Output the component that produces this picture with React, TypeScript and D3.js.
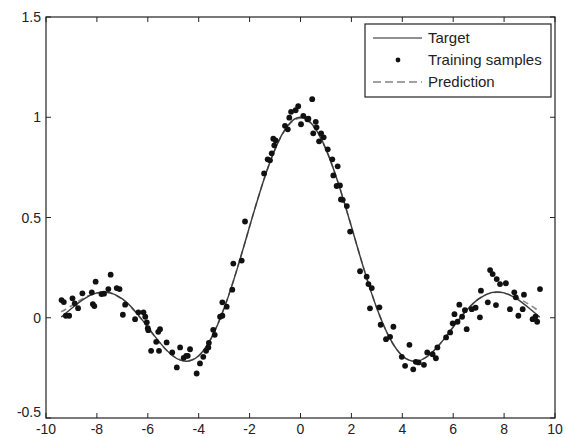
import React from 'react';
import * as d3 from 'd3';

// curve sampled along x
const curveX = [-9.4, -9, -8.5, -8, -7.5, -7, -6.5, -6, -5.5, -5, -4.5, -4, -3.5, -3, -2.5, -2, -1.5, -1, -0.5, 0,
  0.5, 1, 1.5, 2, 2.5, 3, 3.5, 4, 4.5, 5, 5.5, 6, 6.5, 7, 7.5, 8, 8.5, 9, 9.4];
const targetY = [0.003, 0.046, 0.094, 0.124, 0.125, 0.094, 0.033, -0.047, -0.128, -0.192, -0.217, -0.189, -0.1, 0.047,
  0.239, 0.455, 0.665, 0.841, 0.959, 1, 0.959, 0.841, 0.665, 0.455, 0.239, 0.047, -0.1, -0.189, -0.217, -0.192,
  -0.128, -0.047, 0.033, 0.094, 0.125, 0.124, 0.094, 0.046, 0.003];
const predictionY = [0.03, 0.06, 0.1, 0.122, 0.124, 0.092, 0.03, -0.048, -0.13, -0.19, -0.215, -0.19, -0.1, 0.05,
  0.24, 0.455, 0.665, 0.84, 0.955, 0.995, 0.955, 0.84, 0.665, 0.455, 0.24, 0.048, -0.1, -0.19, -0.216, -0.19,
  -0.128, -0.045, 0.034, 0.094, 0.124, 0.123, 0.1, 0.065, 0.03];

const sampleX = [-9.39, -9.3, -9.22, -9.09, -8.96, -8.87, -8.74, -8.57, -8.2, -8.05, -8.16, -8.1, -7.82, -7.72, -7.55,
  -7.46, -7.22, -7.11, -6.98, -6.89, -6.5, -6.37, -6.17, -6.1, -6.04, -6.0, -5.98, -5.87, -5.67, -5.56, -5.59, -5.52,
  -5.26, -5.04, -4.86, -4.73, -4.59, -4.49, -4.43, -4.34, -4.08, -3.95, -3.82, -3.71, -3.62, -3.6, -3.43, -3.37,
  -3.16, -3.07, -3.07, -2.9, -2.68, -2.64, -2.31, -2.18,
  -1.43, -1.29, -1.2, -1.13, -1.07, -1.03, -0.98, -0.61, -0.5, -0.44, -0.37, -0.19, -0.09, 0.02, 0.11, 0.27, 0.31,
  0.46, 0.5, 0.6, 0.63, 0.73, 0.81, 0.91, 1.07, 1.25, 1.29, 1.42, 1.46, 1.55, 1.59, 1.66, 1.82, 1.95,
  2.34, 2.6, 2.67, 2.8, 2.73, 3.1, 3.15, 3.36, 3.52, 3.65, 3.98, 4.11, 4.28, 4.43, 4.53, 4.64, 4.85, 4.98, 5.19,
  5.32, 5.38, 5.72, 5.88, 5.98, 6.05, 6.17, 6.24, 6.35, 6.46, 6.53, 6.73, 6.88, 7.05, 7.09, 7.36, 7.45, 7.55, 7.71,
  7.68, 7.84, 8.07, 8.23, 8.4, 8.46, 8.56, 8.73, 8.78, 9.12, 9.3, 9.23, 9.41];
const sampleY = [0.088, 0.078, 0.01, 0.01, 0.097, 0.072, 0.048, 0.122, 0.127, 0.18, 0.068, 0.058, 0.118, 0.12, 0.143,
  0.215, 0.148, 0.143, 0.015, 0.065, -0.007, 0.027, 0.027, 0.005, -0.023, -0.052, -0.062, -0.165, -0.12, -0.165,
  -0.07, -0.057, -0.123, -0.173, -0.248, -0.148, -0.2, -0.19, -0.19, -0.157, -0.278, -0.228, -0.195, -0.165,
  -0.148, -0.125, -0.06, -0.085, 0.005, 0.01, 0.077, 0.055, 0.14, 0.27, 0.285, 0.48,
  0.72, 0.79, 0.785, 0.82, 0.893, 0.86, 0.885, 0.957, 0.94, 0.998, 1.027, 1.035, 1.055, 0.965, 1.007, 0.99, 0.993,
  1.09, 0.92, 0.977, 0.95, 0.88, 0.92, 0.9, 0.84, 0.79, 0.71, 0.657, 0.755, 0.66, 0.59, 0.588, 0.557, 0.43,
  0.232, 0.205, 0.168, 0.148, 0.047, 0.052, -0.035, -0.107, -0.095, -0.045, -0.195, -0.24, -0.135, -0.257, -0.22,
  -0.223, -0.235, -0.173, -0.182, -0.202, -0.148, -0.098, -0.073, -0.028, 0.018, -0.02, 0.065, 0.005, 0.038,
  -0.057, 0.043, 0.05, 0.002, 0.135, 0.077, 0.238, 0.218, 0.193, 0.063, 0.168, 0.172, 0.043, 0.127, 0.102, 0.01,
  0.043, 0.115, -0.007, -0.02, 0.005, 0.143];

const xTicks = [-10, -8, -6, -4, -2, 0, 2, 4, 6, 8, 10];
const yTicks = [-0.5, 0, 0.5, 1, 1.5];
const legendLabels = ['Target', 'Training samples', 'Prediction'];

export default function App() {
  const width = 566;
  const height = 437;
  const left = 46, right = 555, top = 17, bottom = 418;

  const x = d3.scaleLinear().domain([-10, 10]).range([left, right]);
  const y = d3.scaleLinear().domain([-0.5, 1.5]).range([bottom, top]);

  const line = d3.line<number>()
    .x((_, i) => x(curveX[i]))
    .y((d) => y(d))
    .curve(d3.curveNatural);

  const font = "'Liberation Sans', Arial, sans-serif";
  const tickLen = 5;

  return (
    <svg width={width} height={height} style={{ position: 'absolute', left: 0, top: 0, background: '#fff' }}
      fontFamily={font} fontSize={14}>
      <rect x={left} y={top} width={right - left} height={bottom - top} fill="#fff" />
      <path d={line(predictionY) || ''} fill="none" stroke="#888" strokeWidth={1.6} strokeDasharray="6,4" />
      <path d={line(targetY) || ''} fill="none" stroke="#3a3a3a" strokeWidth={1.4} />
      {sampleX.map((sx, i) => (
        <circle key={i} cx={x(sx)} cy={y(sampleY[i])} r={2.9} fill="#111" />
      ))}

      {/* axes box */}
      <rect x={left} y={top} width={right - left} height={bottom - top} fill="none" stroke="#222" strokeWidth={1.2} />
      {xTicks.map((t) => (
        <g key={'x' + t}>
          <line x1={x(t)} x2={x(t)} y1={bottom} y2={bottom - tickLen} stroke="#222" />
          <line x1={x(t)} x2={x(t)} y1={top} y2={top + tickLen} stroke="#222" />
          <text x={x(t)} y={bottom + 16} textAnchor="middle" fill="#222">{t}</text>
        </g>
      ))}
      {yTicks.map((t) => (
        <g key={'y' + t}>
          <line x1={left} x2={left + tickLen} y1={y(t)} y2={y(t)} stroke="#222" />
          <line x1={right} x2={right - tickLen} y1={y(t)} y2={y(t)} stroke="#222" />
          <text x={left - 5} y={t === -0.5 ? y(t) - 1 : y(t) + 5} textAnchor="end" fill="#222">{t}</text>
        </g>
      ))}

      {/* legend */}
      <g>
        <rect x={365} y={24} width={186} height={73} fill="#fff" stroke="#222" strokeWidth={1.2} />
        <line x1={373} x2={422} y1={38} y2={38} stroke="#222" strokeWidth={1.2} />
        <circle cx={398} cy={60} r={2.4} fill="#111" />
        <line x1={373} x2={422} y1={82} y2={82} stroke="#444" strokeWidth={1.2} strokeDasharray="8,4" />
        {legendLabels.map((l, i) => (
          <text key={l} x={428} y={43 + i * 22} fill="#222" fontSize={15}>{l}</text>
        ))}
      </g>
    </svg>
  );
}
